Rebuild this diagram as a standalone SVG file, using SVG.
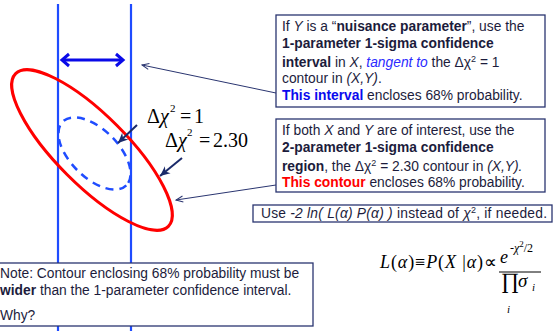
<svg xmlns="http://www.w3.org/2000/svg" width="557" height="331" viewBox="0 0 557 331">
<defs>
<style>
.box{fill:#fff;stroke:#2a3570;stroke-width:1.3}
.t{font-family:"Liberation Sans",Arial,sans-serif;font-size:13.8px;fill:#1c1c3c}
.b{font-weight:bold}
.i{font-style:italic}
.m{font-family:"Liberation Serif","Times New Roman",serif;fill:#000}
.vl{stroke:#1f4cff;stroke-width:2.2;fill:none}
.lead{stroke:#2a3570;stroke-width:1;fill:none}
.pt{stroke:#1a2a6a;stroke-width:2;fill:none}
</style>
<marker id="open" markerWidth="10" markerHeight="10" refX="9" refY="5" orient="auto" markerUnits="userSpaceOnUse">
<path d="M2,2 L9,5 L2,8" fill="none" stroke="#2a3570" stroke-width="1"/>
</marker>
<marker id="solid" markerWidth="12" markerHeight="12" refX="10" refY="6" orient="auto" markerUnits="userSpaceOnUse">
<path d="M0,1.5 L10,6 L0,10.5 L3,6 Z" fill="#1a2a6a"/>
</marker>
</defs>

<g id="interval-lines">
<line class="vl" x1="58" y1="4" x2="58" y2="331"/>
<line class="vl" x1="131" y1="4" x2="131" y2="331"/>
</g>

<g id="width-arrow">
<line x1="64" y1="60" x2="121" y2="60" stroke="#0a0ae8" stroke-width="3"/>
<path d="M69,54 L62,60 L69,66" fill="none" stroke="#0a0ae8" stroke-width="3"/>
<path d="M116,54 L123,60 L116,66" fill="none" stroke="#0a0ae8" stroke-width="3"/>
</g>

<g id="contour-2p30">
<ellipse cx="92" cy="150" rx="108" ry="35" transform="rotate(45 92 150)" fill="none" stroke="#ff0000" stroke-width="3"/>
</g>

<g id="contour-1">
<ellipse cx="94.5" cy="153.5" rx="45" ry="24" transform="rotate(45 94.5 153.5)" fill="none" stroke="#1f4cff" stroke-width="2.5" stroke-dasharray="8,6"/>
</g>

<g id="label-dchi1">
<text class="m" x="147" y="123" font-size="20">Δ<tspan font-style="italic">χ</tspan></text>
<text class="m" x="170" y="112" font-size="11">2</text>
<text class="m" x="180" y="123" font-size="20">=</text>
<text class="m" x="194" y="123" font-size="20">1</text>
</g>
<g id="label-dchi230">
<text class="m" x="165" y="147" font-size="20">Δ<tspan font-style="italic">χ</tspan></text>
<text class="m" x="187" y="136" font-size="11">2</text>
<text class="m" x="199" y="147" font-size="20">=</text>
<text class="m" x="213" y="147" font-size="20">2.30</text>
</g>

<g id="connectors">
<line class="pt" x1="137" y1="125" x2="118" y2="143" marker-end="url(#solid)"/>
<line class="pt" x1="182" y1="158" x2="160" y2="176" marker-end="url(#solid)"/>
<line class="lead" x1="276" y1="93" x2="142" y2="65" marker-end="url(#open)"/>
<line class="lead" x1="276" y1="185" x2="176" y2="200" marker-end="url(#open)"/>
</g>

<g id="box-nuisance">
<rect class="box" x="276" y="15" width="269" height="92"/>
<text class="t" x="282" y="31">If <tspan class="i">Y</tspan> is a “<tspan class="b">nuisance parameter</tspan>”, use the</text>
<text class="t b" x="282" y="48">1-parameter 1-sigma confidence</text>
<text class="t" x="282" y="67"><tspan class="b">interval</tspan> in <tspan class="i">X</tspan>, <tspan class="i" fill="#2a2aff">tangent to</tspan> the Δχ<tspan font-size="9" dy="-5">2</tspan><tspan dy="5"> = 1</tspan></text>
<text class="t" x="282" y="83">contour in <tspan class="i">(X,Y)</tspan>.</text>
<text class="t" x="282" y="100"><tspan class="b" fill="#0a0aee">This interval</tspan> encloses 68% probability.</text>
</g>

<g id="box-region">
<rect class="box" x="276" y="119" width="269" height="73"/>
<text class="t" x="282" y="135">If both <tspan class="i">X</tspan> and <tspan class="i">Y</tspan> are of interest, use the</text>
<text class="t b" x="282" y="152">2-parameter 1-sigma confidence</text>
<text class="t" x="282" y="171"><tspan class="b">region</tspan>, the Δχ<tspan font-size="9" dy="-5">2</tspan><tspan dy="5"> = 2.30 contour in </tspan><tspan class="i">(X,Y).</tspan></text>
<text class="t" x="282" y="187"><tspan class="b" fill="#ff0000">This contour</tspan> encloses 68% probability.</text>
</g>

<g id="box-use">
<rect class="box" x="253" y="205" width="299" height="17"/>
<text class="t" x="261" y="218" textLength="286" lengthAdjust="spacing">Use <tspan class="i">-2 ln( L(α) P(α) )</tspan>  instead of <tspan class="i">χ</tspan><tspan font-size="9" dy="-5">2</tspan><tspan dy="5">, if needed.</tspan></text>
</g>

<g id="box-note">
<rect class="box" x="-5" y="263" width="318" height="63"/>
<text class="t" x="0" y="278">Note: Contour enclosing 68% probability must be</text>
<text class="t" x="0" y="295"><tspan class="b">wider</tspan> than the 1-parameter confidence interval.</text>
<text class="t" x="0" y="320">Why?</text>
</g>

<g id="formula">
<text class="m" x="380" y="268" font-size="18" textLength="117" lengthAdjust="spacing"><tspan font-style="italic">L</tspan>(<tspan font-style="italic">α</tspan>)≡<tspan font-style="italic">P</tspan>(<tspan font-style="italic">X</tspan> |<tspan font-style="italic">α</tspan>)∝</text>
<text class="m" x="500" y="263" font-size="18" font-style="italic">e</text>
<text class="m" x="510" y="252" font-size="12">-<tspan font-style="italic">χ</tspan><tspan font-size="9" dy="-5">2</tspan><tspan dy="5">/2</tspan></text>
<line x1="499" y1="272" x2="541" y2="272" stroke="#000" stroke-width="1"/>
<text class="m" x="501" y="288" font-size="22">∏</text>
<text class="m" x="518" y="287" font-size="19" font-style="italic">σ</text>
<text class="m" x="532" y="291" font-size="11" font-style="italic">i</text>
<text class="m" x="507" y="313" font-size="11" font-style="italic">i</text>
</g>
</svg>
